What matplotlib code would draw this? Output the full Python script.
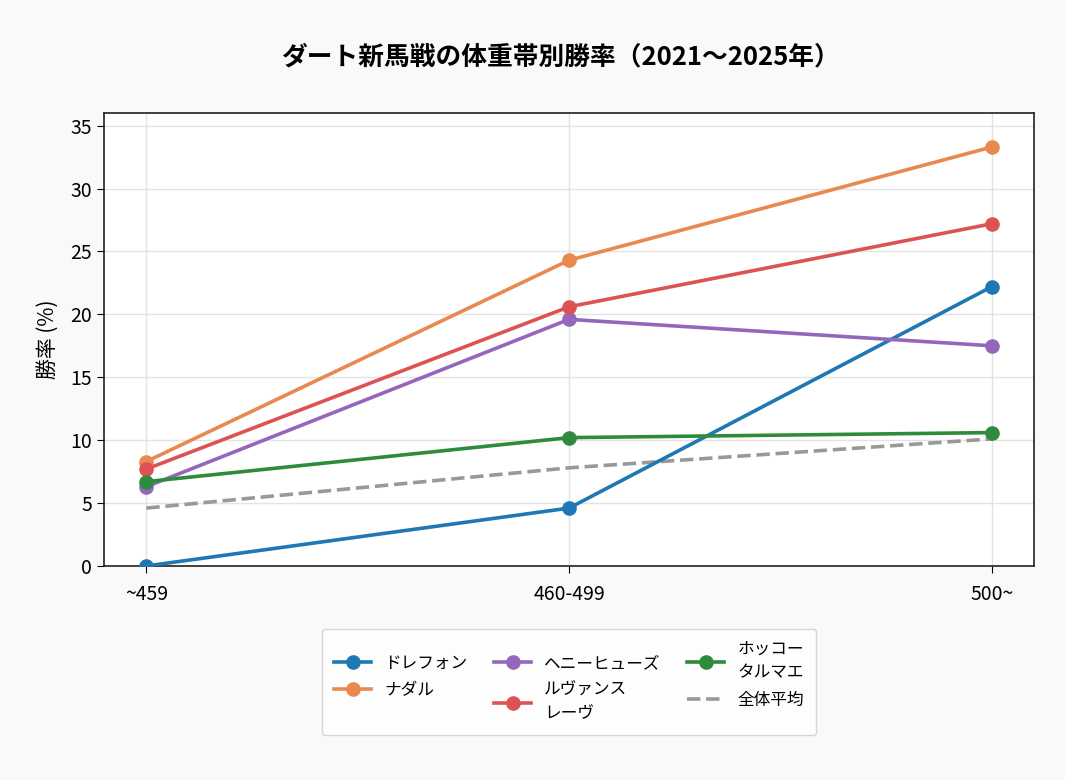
import matplotlib
matplotlib.use('Agg')
import matplotlib.pyplot as plt

plt.rcParams['font.family'] = ['Noto Sans CJK JP', 'DejaVu Sans']

# weight bands and win rates (%)
bands = ['~459', '460-499', '500~']
sires = ['ドレフォン', 'ナダル', 'ヘニーヒューズ', 'ルヴァンス\nレーヴ', 'ホッコー\nタルマエ']
win_rates = [
    [0.0, 4.6, 22.2],
    [8.3, 24.3, 33.3],
    [6.3, 19.6, 17.5],
    [7.7, 20.6, 27.2],
    [6.7, 10.2, 10.6],
]
colors = ['#1f77b4', '#e8894f', '#9467bd', '#dd5353', '#2e8b3c']
avg_label = '全体平均'
avg_rate = [4.6, 7.8, 10.1]

fig = plt.figure(figsize=(10.65, 7.8), dpi=100, facecolor='#f9f9f9')
ax = fig.add_axes([0.0977, 0.2744, 0.8733, 0.5807])
ax.set_facecolor('white')

x = list(range(len(bands)))
for name, vals, c in zip(sires, win_rates, colors):
    ax.plot(x, vals, marker='o', color=c, lw=2.6, ms=9.5, label=name, zorder=3)
ax.plot(x, avg_rate, ls='--', color='#999999', lw=2.6, label=avg_label, zorder=2)

ax.set_xlim(-0.1, 2.1)
ax.set_ylim(0, 36)
ax.set_xticks(x)
ax.set_xticklabels(bands)
ax.set_yticks(range(0, 36, 5))
ax.tick_params(labelsize=14, length=5)
ax.tick_params(axis='x', pad=8)
ax.set_ylabel('勝率 (%)', fontsize=15, labelpad=8)
ax.grid(True, color='#dddddd', lw=1, alpha=0.8)
ax.set_axisbelow(True)
for s in ax.spines.values():
    s.set_color('#222222')
    s.set_linewidth(1.2)

fig.text(0.526, 0.927, 'ダート新馬戦の体重帯別勝率（2021～2025年）',
         ha='center', va='center', fontsize=18.5, fontweight='bold')

leg = ax.legend(loc='upper center', bbox_to_anchor=(0.5, -0.12), ncol=3,
                fontsize=12, frameon=True, edgecolor='#cccccc', fancybox=True,
                columnspacing=1.6, handlelength=2.2, labelspacing=0.6,
                borderpad=0.75, borderaxespad=0.5)
for t in leg.get_texts():
    t.set_linespacing(1.5)

fig.savefig('out.png', dpi=100, facecolor=fig.get_facecolor())
